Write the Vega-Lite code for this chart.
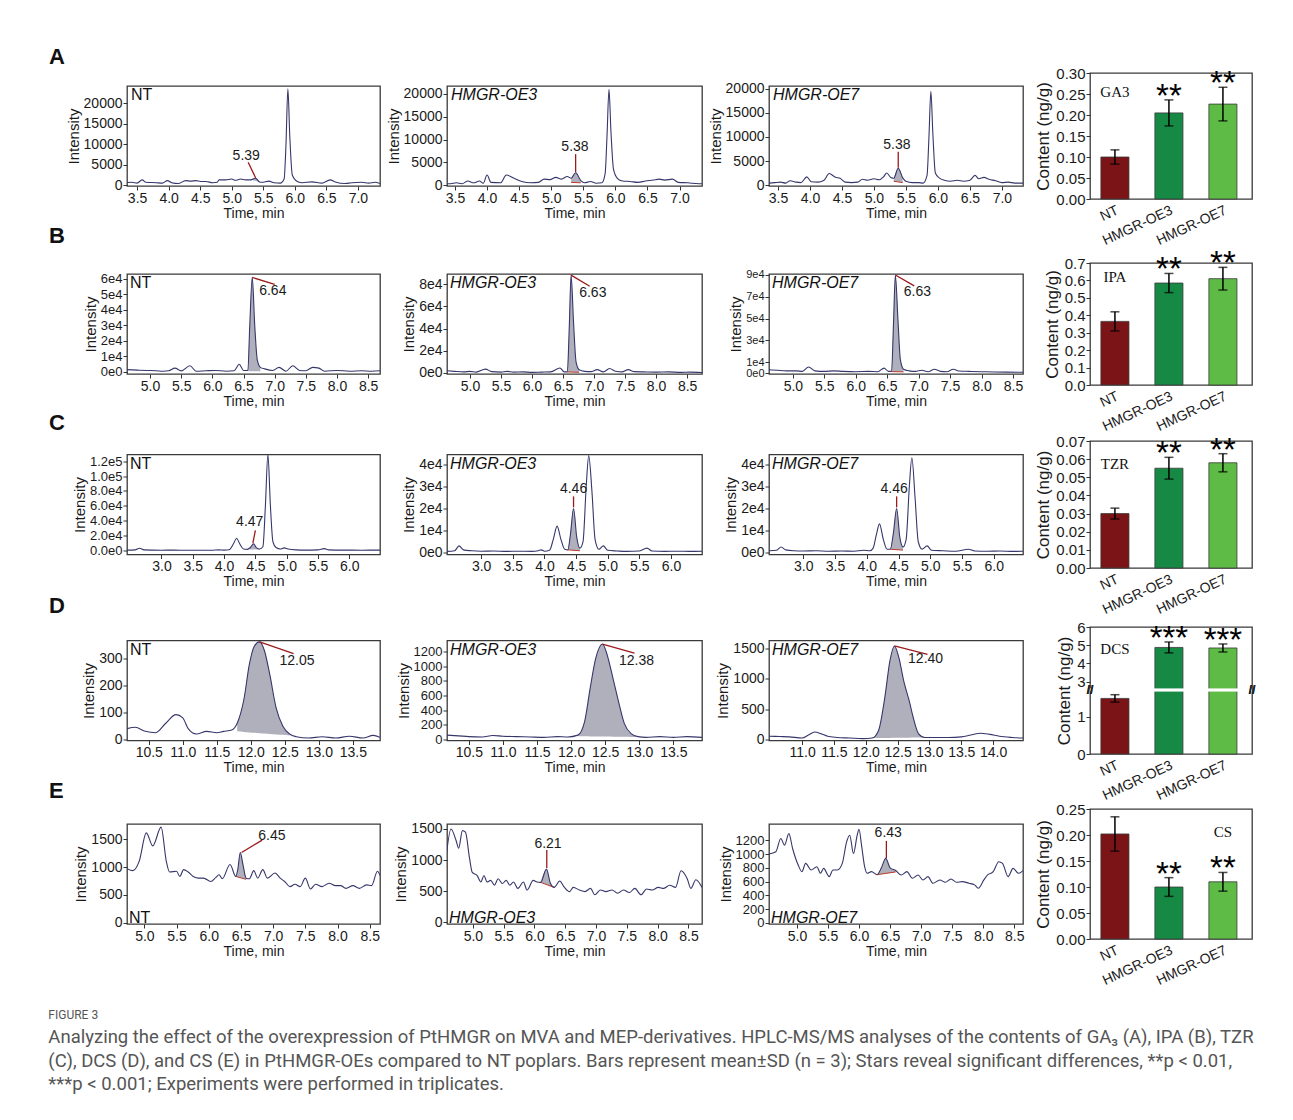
{
"$schema":"https://vega.github.io/schema/vega-lite/v6.json",
"background":"white",
"autosize":{"type":"pad"},
"padding":{"left":48,"top":45,"right":10,"bottom":10},
"config":{
 "view":{"stroke":"#3a3a3a","strokeWidth":1.3},
 "axis":{"labelFont":"Liberation Sans","labelFontSize":14,"labelColor":"#1a1a1a","titleFont":"Liberation Sans","titleFontSize":14,"titleFontWeight":"normal","titleColor":"#1a1a1a","tickColor":"#333","tickSize":4,"domain":false,"grid":false,"labelPadding":1,"labelFlush":false,"labelOverlap":false,"titlePadding":1},
 "axisY":{"titleFontSize":15,"titlePadding":2},
 "text":{"font":"Liberation Sans"}
},
"title":{"text":"FIGURE 3","subtitle":["Analyzing the effect of the overexpression of PtHMGR on MVA and MEP-derivatives. HPLC-MS/MS analyses of the contents of GA₃ (A), IPA (B), TZR","(C), DCS (D), and CS (E) in PtHMGR-OEs compared to NT poplars. Bars represent mean±SD (n = 3); Stars reveal significant differences, **p < 0.01,","***p < 0.001; Experiments were performed in triplicates."],"orient":"bottom","anchor":"start","frame":"bounds","offset":22,"baseline":"top","font":"Roboto","fontSize":12,"fontWeight":"normal","color":"#555","subtitleFont":"Roboto","subtitleFontSize":18.5,"subtitleColor":"#555","subtitleLineHeight":23.5,"subtitlePadding":6},
"spacing":-25,
"vconcat":[
{"bounds":"flush","center":true,"spacing":67,"hconcat":[
{"width":253,"height":100,
 "title":{"text":"A","anchor":"start","frame":"group","orient":"top","dx":-78,"offset":0,"baseline":"alphabetic","font":"Liberation Sans","fontSize":22,"fontWeight":"bold","color":"#111"},
 "layer":[
  {"data":{"values":[{"t":5.3,"y":1300,"y0":1300},{"t":5.38,"y":1700,"y0":1050},{"t":5.44,"y":800,"y0":800}]},
   "mark":{"type":"area","color":"#b0b0bc","interpolate":"monotone"},
   "encoding":{"x":{"field":"t","type":"quantitative","title":"Time, min","scale":{"domain":[3.34,7.35],"nice":false,"zero":false},"axis":{"values":[3.5,4,4.5,5,5.5,6,6.5,7],"tickCount":40,"format":".1f","labelOverlap":false}},
    "y":{"field":"y","type":"quantitative","title":"Intensity","scale":{"domain":[-200,24200],"nice":false,"zero":false},"axis":{"values":[0,5000,10000,15000,20000],"tickCount":40,"format":"d","labelOverlap":false}},"y2":{"field":"y0"}}},
  {"data":{"values":[{"t":3.34,"y":660},{"t":3.42,"y":700},{"t":3.5,"y":500},{"t":3.58,"y":1300},{"t":3.64,"y":700},{"t":3.8,"y":600},{"t":3.9,"y":500},{"t":3.98,"y":1100},{"t":4.05,"y":600},{"t":4.15,"y":400},{"t":4.27,"y":1100},{"t":4.35,"y":1000},{"t":4.43,"y":1100},{"t":4.51,"y":900},{"t":4.59,"y":900},{"t":4.7,"y":600},{"t":4.77,"y":700},{"t":4.8,"y":1300},{"t":4.9,"y":1300},{"t":5.0,"y":1500},{"t":5.06,"y":1200},{"t":5.14,"y":1500},{"t":5.22,"y":1300},{"t":5.3,"y":1300},{"t":5.38,"y":1700},{"t":5.44,"y":800},{"t":5.48,"y":700},{"t":5.59,"y":1000},{"t":5.67,"y":600},{"t":5.77,"y":500},{"t":5.83,"y":1500},{"t":5.86,"y":10000},{"t":5.89,"y":23500},{"t":5.92,"y":12000},{"t":5.96,"y":2500},{"t":6.04,"y":900},{"t":6.12,"y":600},{"t":6.27,"y":800},{"t":6.43,"y":500},{"t":6.56,"y":1300},{"t":6.64,"y":800},{"t":6.8,"y":400},{"t":6.9,"y":600},{"t":7.06,"y":700},{"t":7.17,"y":500},{"t":7.27,"y":700},{"t":7.35,"y":400}]},
   "mark":{"type":"line","color":"#36366b","strokeWidth":1.1,"interpolate":"monotone","clip":true},
   "encoding":{"x":{"field":"t","type":"quantitative","title":"Time, min"},"y":{"field":"y","type":"quantitative","title":"Intensity"}}},
  {"data":{"values":[{"t":5.26,"y":5600,"t2":5.38,"y2":1750}]},
   "mark":{"type":"rule","color":"#9b1b1b","strokeWidth":1.3},
   "encoding":{"x":{"field":"t","type":"quantitative","title":"Time, min"},"y":{"field":"y","type":"quantitative","title":"Intensity"},"x2":{"field":"t2"},"y2":{"field":"y2"}}},
  {"data":{"values":[{"t":5.23,"y":7050,"label":"5.39"}]},
   "mark":{"type":"text","fontSize":14,"baseline":"middle","color":"#1a1a1a"},
   "encoding":{"x":{"field":"t","type":"quantitative","title":"Time, min"},"y":{"field":"y","type":"quantitative","title":"Intensity"},"text":{"field":"label"}}},
  {"data":{"values":[{"t":3.34,"y":24200,"label":"NT"}]},
   "mark":{"type":"text","fontSize":16,"align":"left","baseline":"top","dx":4,"dy":1,"color":"#111"},
   "encoding":{"x":{"field":"t","type":"quantitative","title":"Time, min"},"y":{"field":"y","type":"quantitative","title":"Intensity"},"text":{"field":"label"}}}
 ]},
{"width":255,"height":100,
 "layer":[
  {"data":{"values":[{"t":5.31,"y":1500,"y0":600},{"t":5.38,"y":2700,"y0":550},{"t":5.46,"y":1000,"y0":500}]},
   "mark":{"type":"area","color":"#b0b0bc","interpolate":"monotone"},
   "encoding":{"x":{"field":"t","type":"quantitative","title":"Time, min","scale":{"domain":[3.375,7.35],"nice":false,"zero":false},"axis":{"values":[3.5,4,4.5,5,5.5,6,6.5,7],"tickCount":40,"format":".1f","labelOverlap":false}},
    "y":{"field":"y","type":"quantitative","title":"Intensity","scale":{"domain":[-200,21750],"nice":false,"zero":false},"axis":{"values":[0,5000,10000,15000,20000],"tickCount":40,"format":"d","labelOverlap":false}},"y2":{"field":"y0"}}},
  {"data":{"values":[{"t":5.31,"y0":600},{"t":5.46,"y0":500}]},
   "mark":{"type":"line","color":"#c0392b","strokeWidth":1},
   "encoding":{"x":{"field":"t","type":"quantitative","title":"Time, min"},"y":{"field":"y0","type":"quantitative","title":"Intensity"}}},
  {"data":{"values":[{"t":3.375,"y":300},{"t":3.43,"y":300},{"t":3.52,"y":500},{"t":3.61,"y":300},{"t":3.7,"y":900},{"t":3.79,"y":500},{"t":3.88,"y":900},{"t":3.94,"y":400},{"t":4.0,"y":2200},{"t":4.06,"y":600},{"t":4.21,"y":500},{"t":4.3,"y":2200},{"t":4.42,"y":1500},{"t":4.54,"y":800},{"t":4.68,"y":500},{"t":4.8,"y":600},{"t":4.89,"y":1300},{"t":4.98,"y":1200},{"t":5.07,"y":1700},{"t":5.16,"y":1300},{"t":5.25,"y":1900},{"t":5.31,"y":1500},{"t":5.38,"y":2700},{"t":5.46,"y":1000},{"t":5.52,"y":500},{"t":5.61,"y":800},{"t":5.7,"y":400},{"t":5.79,"y":500},{"t":5.84,"y":2500},{"t":5.87,"y":11000},{"t":5.9,"y":21000},{"t":5.93,"y":12000},{"t":5.97,"y":3500},{"t":6.03,"y":1500},{"t":6.11,"y":900},{"t":6.23,"y":800},{"t":6.35,"y":600},{"t":6.47,"y":900},{"t":6.59,"y":1100},{"t":6.68,"y":1300},{"t":6.77,"y":1100},{"t":6.89,"y":1300},{"t":6.98,"y":600},{"t":7.13,"y":500},{"t":7.3,"y":300},{"t":7.35,"y":300}]},
   "mark":{"type":"line","color":"#36366b","strokeWidth":1.1,"interpolate":"monotone","clip":true},
   "encoding":{"x":{"field":"t","type":"quantitative","title":"Time, min"},"y":{"field":"y","type":"quantitative","title":"Intensity"}}},
  {"data":{"values":[{"t":5.38,"y":6800,"t2":5.38,"y2":2800}]},
   "mark":{"type":"rule","color":"#9b1b1b","strokeWidth":1.3},
   "encoding":{"x":{"field":"t","type":"quantitative","title":"Time, min"},"y":{"field":"y","type":"quantitative","title":"Intensity"},"x2":{"field":"t2"},"y2":{"field":"y2"}}},
  {"data":{"values":[{"t":5.37,"y":8300,"label":"5.38"}]},
   "mark":{"type":"text","fontSize":14,"baseline":"middle","color":"#1a1a1a"},
   "encoding":{"x":{"field":"t","type":"quantitative","title":"Time, min"},"y":{"field":"y","type":"quantitative","title":"Intensity"},"text":{"field":"label"}}},
  {"data":{"values":[{"t":3.375,"y":21750,"label":"HMGR-OE3"}]},
   "mark":{"type":"text","fontSize":16,"fontStyle":"italic","align":"left","baseline":"top","dx":4,"dy":1,"color":"#111"},
   "encoding":{"x":{"field":"t","type":"quantitative","title":"Time, min"},"y":{"field":"y","type":"quantitative","title":"Intensity"},"text":{"field":"label"}}}
 ]},
{"width":254,"height":100,
 "layer":[
  {"data":{"values":[{"t":5.31,"y":1400,"y0":800},{"t":5.38,"y":3500,"y0":650},{"t":5.45,"y":1500,"y0":500}]},
   "mark":{"type":"area","color":"#b0b0bc","interpolate":"monotone"},
   "encoding":{"x":{"field":"t","type":"quantitative","title":"Time, min","scale":{"domain":[3.36,7.33],"nice":false,"zero":false},"axis":{"values":[3.5,4,4.5,5,5.5,6,6.5,7],"tickCount":40,"format":".1f","labelOverlap":false}},
    "y":{"field":"y","type":"quantitative","title":"Intensity","scale":{"domain":[-200,20600],"nice":false,"zero":false},"axis":{"values":[0,5000,10000,15000,20000],"tickCount":40,"format":"d","labelOverlap":false}},"y2":{"field":"y0"}}},
  {"data":{"values":[{"t":5.31,"y0":800},{"t":5.45,"y0":500}]},
   "mark":{"type":"line","color":"#c0392b","strokeWidth":1},
   "encoding":{"x":{"field":"t","type":"quantitative","title":"Time, min"},"y":{"field":"y0","type":"quantitative","title":"Intensity"}}},
  {"data":{"values":[{"t":3.36,"y":400},{"t":3.45,"y":500},{"t":3.54,"y":600},{"t":3.62,"y":400},{"t":3.69,"y":900},{"t":3.78,"y":600},{"t":3.86,"y":500},{"t":3.95,"y":1700},{"t":4.02,"y":700},{"t":4.12,"y":600},{"t":4.22,"y":1000},{"t":4.3,"y":2400},{"t":4.4,"y":1600},{"t":4.47,"y":1400},{"t":4.55,"y":600},{"t":4.65,"y":500},{"t":4.75,"y":600},{"t":4.82,"y":1200},{"t":4.9,"y":1000},{"t":5.0,"y":1300},{"t":5.08,"y":1100},{"t":5.15,"y":1700},{"t":5.2,"y":2500},{"t":5.27,"y":1500},{"t":5.31,"y":1400},{"t":5.38,"y":3500},{"t":5.45,"y":1500},{"t":5.5,"y":800},{"t":5.6,"y":500},{"t":5.7,"y":500},{"t":5.77,"y":400},{"t":5.83,"y":2000},{"t":5.86,"y":10000},{"t":5.89,"y":19500},{"t":5.92,"y":11000},{"t":5.96,"y":2500},{"t":6.02,"y":1500},{"t":6.1,"y":1000},{"t":6.2,"y":800},{"t":6.3,"y":1000},{"t":6.4,"y":800},{"t":6.5,"y":1000},{"t":6.58,"y":2000},{"t":6.64,"y":1300},{"t":6.72,"y":1600},{"t":6.8,"y":1200},{"t":6.9,"y":900},{"t":7.0,"y":500},{"t":7.1,"y":600},{"t":7.2,"y":400},{"t":7.33,"y":400}]},
   "mark":{"type":"line","color":"#36366b","strokeWidth":1.1,"interpolate":"monotone","clip":true},
   "encoding":{"x":{"field":"t","type":"quantitative","title":"Time, min"},"y":{"field":"y","type":"quantitative","title":"Intensity"}}},
  {"data":{"values":[{"t":5.38,"y":6900,"t2":5.38,"y2":3600}]},
   "mark":{"type":"rule","color":"#9b1b1b","strokeWidth":1.3},
   "encoding":{"x":{"field":"t","type":"quantitative","title":"Time, min"},"y":{"field":"y","type":"quantitative","title":"Intensity"},"x2":{"field":"t2"},"y2":{"field":"y2"}}},
  {"data":{"values":[{"t":5.36,"y":8300,"label":"5.38"}]},
   "mark":{"type":"text","fontSize":14,"baseline":"middle","color":"#1a1a1a"},
   "encoding":{"x":{"field":"t","type":"quantitative","title":"Time, min"},"y":{"field":"y","type":"quantitative","title":"Intensity"},"text":{"field":"label"}}},
  {"data":{"values":[{"t":3.36,"y":20600,"label":"HMGR-OE7"}]},
   "mark":{"type":"text","fontSize":16,"fontStyle":"italic","align":"left","baseline":"top","dx":4,"dy":1,"color":"#111"},
   "encoding":{"x":{"field":"t","type":"quantitative","title":"Time, min"},"y":{"field":"y","type":"quantitative","title":"Intensity"},"text":{"field":"label"}}}
 ]},
{"width":162,"height":126,
 "data":{"values":[{"g":"NT","mean":0.1,"sd":0.017,"s":""},{"g":"HMGR-OE3","mean":0.205,"sd":0.031,"s":"**"},{"g":"HMGR-OE7","mean":0.226,"sd":0.04,"s":"**"}]},
 "layer":[
  {"mark":{"type":"bar","stroke":"#3a3a3a","strokeWidth":0.8},
   "encoding":{"x":{"field":"g","type":"nominal","sort":null,"title":null,"scale":{"domain":["NT","HMGR-OE3","HMGR-OE7"],"paddingInner":0.48,"paddingOuter":0.24,"align":0.42},"axis":{"labelAngle":-25,"ticks":false,"labelPadding":4,"labelOverlap":false}},
    "y":{"field":"mean","type":"quantitative","title":"Content (ng/g)","scale":{"domain":[0,0.3],"nice":false},"axis":{"values":[0,0.05,0.1,0.15,0.2,0.25,0.3],"tickCount":40,"format":".2f","labelFontSize":15,"titleFontSize":17,"titlePadding":3,"labelOverlap":false}},
    "color":{"field":"g","type":"nominal","scale":{"domain":["NT","HMGR-OE3","HMGR-OE7"],"range":["#7b1416","#168a45","#5dbb46"]},"legend":null}}},
  {"mark":{"type":"errorbar","ticks":true,"size":9,"thickness":1.5,"color":"#000"},
   "encoding":{"x":{"field":"g","type":"nominal","sort":null,"title":null},"y":{"field":"mean","type":"quantitative","title":"Content (ng/g)"},"yError":{"field":"sd"}}},
  {"transform":[{"calculate":"datum.mean+datum.sd","as":"top"}],
   "mark":{"type":"text","fontSize":33,"dy":7,"color":"#000","baseline":"alphabetic"},
   "encoding":{"x":{"field":"g","type":"nominal","sort":null,"title":null},"y":{"field":"top","type":"quantitative","title":"Content (ng/g)"},"text":{"field":"s"}}},
  {"data":{"values":[{"g":"NT","v":0.255,"label":"GA3"}]},
   "mark":{"type":"text","font":"Liberation Serif","fontSize":15,"baseline":"middle","color":"#111"},
   "encoding":{"x":{"field":"g","type":"nominal","sort":null,"title":null},"y":{"field":"v","type":"quantitative","title":"Content (ng/g)"},"text":{"field":"label"}}}
 ]}
]},
{"bounds":"flush","center":true,"spacing":67,"hconcat":[
{"width":253,"height":100,
 "title":{"text":"B","anchor":"start","frame":"group","orient":"top","dx":-78,"offset":8,"baseline":"alphabetic","font":"Liberation Sans","fontSize":22,"fontWeight":"bold","color":"#111"},
 "layer":[
  {"data":{"values":[{"t":6.57,"y":1000,"y0":600},{"t":6.6,"y":30000,"y0":550},{"t":6.64,"y":61000,"y0":500},{"t":6.68,"y":30000,"y0":450},{"t":6.72,"y":8000,"y0":400},{"t":6.77,"y":3000,"y0":350}]},
   "mark":{"type":"area","color":"#b0b0bc","interpolate":"monotone"},
   "encoding":{"x":{"field":"t","type":"quantitative","title":"Time, min","scale":{"domain":[4.63,8.69],"nice":false,"zero":false},"axis":{"values":[5,5.5,6,6.5,7,7.5,8,8.5],"tickCount":40,"format":".1f","labelOverlap":false}},
    "y":{"field":"y","type":"quantitative","title":"Intensity","scale":{"domain":[-1300,63200],"nice":false,"zero":false},"axis":{"values":[0,10000,20000,30000,40000,50000,60000],"tickCount":40,"labelFontSize":13,"labelExpr":"replace(format(datum.value, '.0e'), '+', '')","labelOverlap":false}},"y2":{"field":"y0"}}},
  {"data":{"values":[{"t":4.63,"y":1500},{"t":4.8,"y":1200},{"t":4.95,"y":1000},{"t":5.1,"y":800},{"t":5.21,"y":500},{"t":5.3,"y":800},{"t":5.4,"y":2500},{"t":5.5,"y":700},{"t":5.64,"y":4000},{"t":5.74,"y":500},{"t":5.9,"y":800},{"t":6.05,"y":1000},{"t":6.22,"y":500},{"t":6.35,"y":800},{"t":6.43,"y":5000},{"t":6.5,"y":1000},{"t":6.57,"y":1000},{"t":6.6,"y":30000},{"t":6.64,"y":61000},{"t":6.68,"y":30000},{"t":6.72,"y":8000},{"t":6.77,"y":3000},{"t":6.84,"y":2000},{"t":6.97,"y":1000},{"t":7.07,"y":3000},{"t":7.18,"y":500},{"t":7.29,"y":4000},{"t":7.4,"y":1000},{"t":7.5,"y":800},{"t":7.61,"y":3000},{"t":7.71,"y":2500},{"t":7.8,"y":500},{"t":8.0,"y":1000},{"t":8.2,"y":500},{"t":8.4,"y":800},{"t":8.55,"y":500},{"t":8.69,"y":800}]},
   "mark":{"type":"line","color":"#36366b","strokeWidth":1.1,"interpolate":"monotone","clip":true},
   "encoding":{"x":{"field":"t","type":"quantitative","title":"Time, min"},"y":{"field":"y","type":"quantitative","title":"Intensity"}}},
  {"data":{"values":[{"t":6.64,"y":61000,"t2":7.0,"y2":56500}]},
   "mark":{"type":"rule","color":"#9b1b1b","strokeWidth":1.3},
   "encoding":{"x":{"field":"t","type":"quantitative","title":"Time, min"},"y":{"field":"y","type":"quantitative","title":"Intensity"},"x2":{"field":"t2"},"y2":{"field":"y2"}}},
  {"data":{"values":[{"t":6.97,"y":52000,"label":"6.64"}]},
   "mark":{"type":"text","fontSize":14,"baseline":"middle","color":"#1a1a1a"},
   "encoding":{"x":{"field":"t","type":"quantitative","title":"Time, min"},"y":{"field":"y","type":"quantitative","title":"Intensity"},"text":{"field":"label"}}},
  {"data":{"values":[{"t":4.63,"y":63200,"label":"NT"}]},
   "mark":{"type":"text","fontSize":16,"align":"left","baseline":"top","dx":3,"dy":1,"color":"#111"},
   "encoding":{"x":{"field":"t","type":"quantitative","title":"Time, min"},"y":{"field":"y","type":"quantitative","title":"Intensity"},"text":{"field":"label"}}}
 ]},
{"width":255,"height":100,
 "layer":[
  {"data":{"values":[{"t":6.57,"y":1000,"y0":900},{"t":6.6,"y":40000,"y0":850},{"t":6.63,"y":88000,"y0":800},{"t":6.67,"y":45000,"y0":750},{"t":6.71,"y":10000,"y0":700},{"t":6.76,"y":3000,"y0":650}]},
   "mark":{"type":"area","color":"#b0b0bc","interpolate":"monotone"},
   "encoding":{"x":{"field":"t","type":"quantitative","title":"Time, min","scale":{"domain":[4.63,8.74],"nice":false,"zero":false},"axis":{"values":[5,5.5,6,6.5,7,7.5,8,8.5],"tickCount":40,"format":".1f","labelOverlap":false}},
    "y":{"field":"y","type":"quantitative","title":"Intensity","scale":{"domain":[-900,89000],"nice":false,"zero":false},"axis":{"values":[0,20000,40000,60000,80000],"tickCount":40,"labelExpr":"replace(format(datum.value, '.0e'), '+', '')","labelOverlap":false}},"y2":{"field":"y0"}}},
  {"data":{"values":[{"t":6.57,"y0":900},{"t":6.76,"y0":650}]},
   "mark":{"type":"line","color":"#c0392b","strokeWidth":1},
   "encoding":{"x":{"field":"t","type":"quantitative","title":"Time, min"},"y":{"field":"y0","type":"quantitative","title":"Intensity"}}},
  {"data":{"values":[{"t":4.63,"y":2000},{"t":4.75,"y":1500},{"t":4.9,"y":1000},{"t":5.0,"y":1500},{"t":5.1,"y":800},{"t":5.25,"y":3500},{"t":5.35,"y":1200},{"t":5.5,"y":800},{"t":5.6,"y":1500},{"t":5.7,"y":800},{"t":5.85,"y":1000},{"t":6.0,"y":600},{"t":6.15,"y":800},{"t":6.3,"y":1000},{"t":6.45,"y":4500},{"t":6.52,"y":1000},{"t":6.57,"y":1000},{"t":6.6,"y":40000},{"t":6.63,"y":88000},{"t":6.67,"y":45000},{"t":6.71,"y":10000},{"t":6.76,"y":3000},{"t":6.85,"y":1500},{"t":6.95,"y":1200},{"t":7.05,"y":3000},{"t":7.15,"y":1000},{"t":7.25,"y":4000},{"t":7.35,"y":1500},{"t":7.45,"y":1000},{"t":7.55,"y":3000},{"t":7.65,"y":1200},{"t":7.8,"y":1000},{"t":8.0,"y":800},{"t":8.2,"y":1000},{"t":8.4,"y":600},{"t":8.55,"y":800},{"t":8.74,"y":500}]},
   "mark":{"type":"line","color":"#36366b","strokeWidth":1.1,"interpolate":"monotone","clip":true},
   "encoding":{"x":{"field":"t","type":"quantitative","title":"Time, min"},"y":{"field":"y","type":"quantitative","title":"Intensity"}}},
  {"data":{"values":[{"t":6.63,"y":88000,"t2":6.93,"y2":78000}]},
   "mark":{"type":"rule","color":"#9b1b1b","strokeWidth":1.3},
   "encoding":{"x":{"field":"t","type":"quantitative","title":"Time, min"},"y":{"field":"y","type":"quantitative","title":"Intensity"},"x2":{"field":"t2"},"y2":{"field":"y2"}}},
  {"data":{"values":[{"t":6.98,"y":71500,"label":"6.63"}]},
   "mark":{"type":"text","fontSize":14,"baseline":"middle","color":"#1a1a1a"},
   "encoding":{"x":{"field":"t","type":"quantitative","title":"Time, min"},"y":{"field":"y","type":"quantitative","title":"Intensity"},"text":{"field":"label"}}},
  {"data":{"values":[{"t":4.63,"y":89000,"label":"HMGR-OE3"}]},
   "mark":{"type":"text","fontSize":16,"fontStyle":"italic","align":"left","baseline":"top","dx":3,"dy":1,"color":"#111"},
   "encoding":{"x":{"field":"t","type":"quantitative","title":"Time, min"},"y":{"field":"y","type":"quantitative","title":"Intensity"},"text":{"field":"label"}}}
 ]},
{"width":254,"height":100,
 "layer":[
  {"data":{"values":[{"t":6.57,"y":1500,"y0":1300},{"t":6.6,"y":45000,"y0":1250},{"t":6.63,"y":90000,"y0":1200},{"t":6.67,"y":50000,"y0":1150},{"t":6.71,"y":12000,"y0":1100},{"t":6.76,"y":3500,"y0":1050}]},
   "mark":{"type":"area","color":"#b0b0bc","interpolate":"monotone"},
   "encoding":{"x":{"field":"t","type":"quantitative","title":"Time, min","scale":{"domain":[4.62,8.66],"nice":false,"zero":false},"axis":{"values":[5,5.5,6,6.5,7,7.5,8,8.5],"tickCount":40,"format":".1f","labelOverlap":false}},
    "y":{"field":"y","type":"quantitative","title":"Intensity","scale":{"domain":[-900,90900],"nice":false,"zero":false},"axis":{"values":[0,10000,30000,50000,70000,90000],"tickCount":40,"labelFontSize":11,"labelExpr":"replace(format(datum.value, '.0e'), '+', '')","labelOverlap":false}},"y2":{"field":"y0"}}},
  {"data":{"values":[{"t":6.57,"y0":1300},{"t":6.76,"y0":1050}]},
   "mark":{"type":"line","color":"#c0392b","strokeWidth":1},
   "encoding":{"x":{"field":"t","type":"quantitative","title":"Time, min"},"y":{"field":"y0","type":"quantitative","title":"Intensity"}}},
  {"data":{"values":[{"t":4.62,"y":3000},{"t":4.75,"y":2500},{"t":4.9,"y":2000},{"t":5.05,"y":2000},{"t":5.15,"y":1500},{"t":5.25,"y":5500},{"t":5.35,"y":2000},{"t":5.5,"y":1500},{"t":5.65,"y":2000},{"t":5.8,"y":1500},{"t":6.0,"y":1200},{"t":6.2,"y":1500},{"t":6.35,"y":1200},{"t":6.45,"y":4500},{"t":6.52,"y":1500},{"t":6.57,"y":1500},{"t":6.6,"y":45000},{"t":6.63,"y":90000},{"t":6.67,"y":50000},{"t":6.71,"y":12000},{"t":6.76,"y":3500},{"t":6.85,"y":2000},{"t":6.95,"y":1500},{"t":7.05,"y":2500},{"t":7.15,"y":1200},{"t":7.25,"y":3500},{"t":7.35,"y":1500},{"t":7.45,"y":1200},{"t":7.55,"y":3500},{"t":7.65,"y":1800},{"t":7.8,"y":1500},{"t":8.0,"y":1200},{"t":8.2,"y":1000},{"t":8.4,"y":800},{"t":8.66,"y":700}]},
   "mark":{"type":"line","color":"#36366b","strokeWidth":1.1,"interpolate":"monotone","clip":true},
   "encoding":{"x":{"field":"t","type":"quantitative","title":"Time, min"},"y":{"field":"y","type":"quantitative","title":"Intensity"}}},
  {"data":{"values":[{"t":6.63,"y":90000,"t2":6.93,"y2":80000}]},
   "mark":{"type":"rule","color":"#9b1b1b","strokeWidth":1.3},
   "encoding":{"x":{"field":"t","type":"quantitative","title":"Time, min"},"y":{"field":"y","type":"quantitative","title":"Intensity"},"x2":{"field":"t2"},"y2":{"field":"y2"}}},
  {"data":{"values":[{"t":6.98,"y":74000,"label":"6.63"}]},
   "mark":{"type":"text","fontSize":14,"baseline":"middle","color":"#1a1a1a"},
   "encoding":{"x":{"field":"t","type":"quantitative","title":"Time, min"},"y":{"field":"y","type":"quantitative","title":"Intensity"},"text":{"field":"label"}}},
  {"data":{"values":[{"t":4.62,"y":90900,"label":"HMGR-OE7"}]},
   "mark":{"type":"text","fontSize":16,"fontStyle":"italic","align":"left","baseline":"top","dx":3,"dy":1,"color":"#111"},
   "encoding":{"x":{"field":"t","type":"quantitative","title":"Time, min"},"y":{"field":"y","type":"quantitative","title":"Intensity"},"text":{"field":"label"}}}
 ]},
{"width":162,"height":122,
 "data":{"values":[{"g":"NT","mean":0.365,"sd":0.055,"s":""},{"g":"HMGR-OE3","mean":0.585,"sd":0.055,"s":"**"},{"g":"HMGR-OE7","mean":0.61,"sd":0.065,"s":"**"}]},
 "layer":[
  {"mark":{"type":"bar","stroke":"#3a3a3a","strokeWidth":0.8},
   "encoding":{"x":{"field":"g","type":"nominal","sort":null,"title":null,"scale":{"domain":["NT","HMGR-OE3","HMGR-OE7"],"paddingInner":0.48,"paddingOuter":0.24,"align":0.42},"axis":{"labelAngle":-25,"ticks":false,"labelPadding":4,"labelOverlap":false}},
    "y":{"field":"mean","type":"quantitative","title":"Content (ng/g)","scale":{"domain":[0,0.7],"nice":false},"axis":{"values":[0,0.1,0.2,0.3,0.4,0.5,0.6,0.7],"tickCount":40,"format":".1f","labelFontSize":15,"titleFontSize":17,"titlePadding":3,"labelOverlap":false}},
    "color":{"field":"g","type":"nominal","scale":{"domain":["NT","HMGR-OE3","HMGR-OE7"],"range":["#7b1416","#168a45","#5dbb46"]},"legend":null}}},
  {"mark":{"type":"errorbar","ticks":true,"size":9,"thickness":1.5,"color":"#000"},
   "encoding":{"x":{"field":"g","type":"nominal","sort":null,"title":null},"y":{"field":"mean","type":"quantitative","title":"Content (ng/g)"},"yError":{"field":"sd"}}},
  {"transform":[{"calculate":"datum.mean+datum.sd","as":"top"}],
   "mark":{"type":"text","fontSize":33,"dy":7,"color":"#000","baseline":"alphabetic"},
   "encoding":{"x":{"field":"g","type":"nominal","sort":null,"title":null},"y":{"field":"top","type":"quantitative","title":"Content (ng/g)"},"text":{"field":"s"}}},
  {"data":{"values":[{"g":"NT","v":0.62,"label":"IPA"}]},
   "mark":{"type":"text","font":"Liberation Serif","fontSize":15,"baseline":"middle","color":"#111"},
   "encoding":{"x":{"field":"g","type":"nominal","sort":null,"title":null},"y":{"field":"v","type":"quantitative","title":"Content (ng/g)"},"text":{"field":"label"}}}
 ]}
]},
{"bounds":"flush","center":true,"spacing":67,"hconcat":[
{"width":253,"height":100,
 "title":{"text":"C","anchor":"start","frame":"group","orient":"top","dx":-78,"offset":3,"baseline":"alphabetic","font":"Liberation Sans","fontSize":22,"fontWeight":"bold","color":"#111"},
 "layer":[
  {"data":{"values":[{"t":4.37,"y":1500,"y0":1500},{"t":4.42,"y":4000,"y0":1400},{"t":4.47,"y":9000,"y0":1300},{"t":4.52,"y":3500,"y0":1200},{"t":4.57,"y":2000,"y0":1100}]},
   "mark":{"type":"area","color":"#b0b0bc","interpolate":"monotone"},
   "encoding":{"x":{"field":"t","type":"quantitative","title":"Time, min","scale":{"domain":[2.45,6.49],"nice":false,"zero":false},"axis":{"values":[3,3.5,4,4.5,5,5.5,6],"tickCount":40,"format":".1f","labelOverlap":false}},
    "y":{"field":"y","type":"quantitative","title":"Intensity","scale":{"domain":[-5400,129000],"nice":false,"zero":false},"axis":{"values":[0,20000,40000,60000,80000,100000,120000],"tickCount":40,"labelFontSize":13,"labelExpr":"replace(format(datum.value, '.1e'), '+', '')","labelOverlap":false}},"y2":{"field":"y0"}}},
  {"data":{"values":[{"t":2.45,"y":500},{"t":2.58,"y":800},{"t":2.65,"y":3000},{"t":2.72,"y":800},{"t":2.85,"y":500},{"t":3.0,"y":400},{"t":3.2,"y":500},{"t":3.4,"y":300},{"t":3.6,"y":400},{"t":3.8,"y":300},{"t":3.92,"y":800},{"t":4.0,"y":500},{"t":4.08,"y":1000},{"t":4.15,"y":9000},{"t":4.2,"y":16500},{"t":4.25,"y":9000},{"t":4.31,"y":2000},{"t":4.37,"y":1500},{"t":4.42,"y":4000},{"t":4.47,"y":9000},{"t":4.52,"y":3500},{"t":4.57,"y":2000},{"t":4.62,"y":5000},{"t":4.66,"y":60000},{"t":4.7,"y":129000},{"t":4.74,"y":60000},{"t":4.78,"y":12000},{"t":4.83,"y":4000},{"t":4.9,"y":2000},{"t":4.96,"y":3500},{"t":5.02,"y":2000},{"t":5.15,"y":800},{"t":5.3,"y":500},{"t":5.5,"y":800},{"t":5.6,"y":2500},{"t":5.67,"y":800},{"t":5.9,"y":500},{"t":6.2,"y":400},{"t":6.49,"y":500}]},
   "mark":{"type":"line","color":"#36366b","strokeWidth":1.1,"interpolate":"monotone","clip":true},
   "encoding":{"x":{"field":"t","type":"quantitative","title":"Time, min"},"y":{"field":"y","type":"quantitative","title":"Intensity"}}},
  {"data":{"values":[{"t":4.5,"y":27000,"t2":4.46,"y2":10000}]},
   "mark":{"type":"rule","color":"#9b1b1b","strokeWidth":1.3},
   "encoding":{"x":{"field":"t","type":"quantitative","title":"Time, min"},"y":{"field":"y","type":"quantitative","title":"Intensity"},"x2":{"field":"t2"},"y2":{"field":"y2"}}},
  {"data":{"values":[{"t":4.41,"y":38500,"label":"4.47"}]},
   "mark":{"type":"text","fontSize":14,"baseline":"middle","color":"#1a1a1a"},
   "encoding":{"x":{"field":"t","type":"quantitative","title":"Time, min"},"y":{"field":"y","type":"quantitative","title":"Intensity"},"text":{"field":"label"}}},
  {"data":{"values":[{"t":2.45,"y":129000,"label":"NT"}]},
   "mark":{"type":"text","fontSize":16,"align":"left","baseline":"top","dx":3,"dy":1,"color":"#111"},
   "encoding":{"x":{"field":"t","type":"quantitative","title":"Time, min"},"y":{"field":"y","type":"quantitative","title":"Intensity"},"text":{"field":"label"}}}
 ]},
{"width":255,"height":100,
 "layer":[
  {"data":{"values":[{"t":4.37,"y":1200,"y0":1200},{"t":4.41,"y":8000,"y0":1100},{"t":4.46,"y":20000,"y0":1000},{"t":4.51,"y":7000,"y0":900},{"t":4.56,"y":2000,"y0":800}]},
   "mark":{"type":"area","color":"#b0b0bc","interpolate":"monotone"},
   "encoding":{"x":{"field":"t","type":"quantitative","title":"Time, min","scale":{"domain":[2.46,6.49],"nice":false,"zero":false},"axis":{"values":[3,3.5,4,4.5,5,5.5,6],"tickCount":40,"format":".1f","labelOverlap":false}},
    "y":{"field":"y","type":"quantitative","title":"Intensity","scale":{"domain":[-900,44500],"nice":false,"zero":false},"axis":{"values":[0,10000,20000,30000,40000],"tickCount":40,"labelExpr":"replace(format(datum.value, '.0e'), '+', '')","labelOverlap":false}},"y2":{"field":"y0"}}},
  {"data":{"values":[{"t":4.37,"y0":1200},{"t":4.56,"y0":800}]},
   "mark":{"type":"line","color":"#c0392b","strokeWidth":1},
   "encoding":{"x":{"field":"t","type":"quantitative","title":"Time, min"},"y":{"field":"y0","type":"quantitative","title":"Intensity"}}},
  {"data":{"values":[{"t":2.46,"y":500},{"t":2.58,"y":800},{"t":2.65,"y":3000},{"t":2.72,"y":1200},{"t":2.85,"y":800},{"t":3.0,"y":600},{"t":3.2,"y":700},{"t":3.4,"y":500},{"t":3.6,"y":600},{"t":3.8,"y":500},{"t":3.9,"y":800},{"t":3.95,"y":1200},{"t":4.0,"y":600},{"t":4.08,"y":1000},{"t":4.14,"y":6000},{"t":4.2,"y":12000},{"t":4.26,"y":6000},{"t":4.32,"y":1500},{"t":4.37,"y":1200},{"t":4.41,"y":8000},{"t":4.46,"y":20000},{"t":4.51,"y":7000},{"t":4.56,"y":2000},{"t":4.61,"y":5000},{"t":4.66,"y":30000},{"t":4.7,"y":44000},{"t":4.75,"y":28000},{"t":4.8,"y":6000},{"t":4.86,"y":1500},{"t":4.93,"y":3000},{"t":5.0,"y":1000},{"t":5.15,"y":700},{"t":5.3,"y":500},{"t":5.5,"y":700},{"t":5.62,"y":2000},{"t":5.7,"y":700},{"t":5.9,"y":500},{"t":6.1,"y":600},{"t":6.3,"y":500},{"t":6.49,"y":600}]},
   "mark":{"type":"line","color":"#36366b","strokeWidth":1.1,"interpolate":"monotone","clip":true},
   "encoding":{"x":{"field":"t","type":"quantitative","title":"Time, min"},"y":{"field":"y","type":"quantitative","title":"Intensity"}}},
  {"data":{"values":[{"t":4.46,"y":25500,"t2":4.46,"y2":20500}]},
   "mark":{"type":"rule","color":"#9b1b1b","strokeWidth":1.3},
   "encoding":{"x":{"field":"t","type":"quantitative","title":"Time, min"},"y":{"field":"y","type":"quantitative","title":"Intensity"},"x2":{"field":"t2"},"y2":{"field":"y2"}}},
  {"data":{"values":[{"t":4.46,"y":28800,"label":"4.46"}]},
   "mark":{"type":"text","fontSize":14,"baseline":"middle","color":"#1a1a1a"},
   "encoding":{"x":{"field":"t","type":"quantitative","title":"Time, min"},"y":{"field":"y","type":"quantitative","title":"Intensity"},"text":{"field":"label"}}},
  {"data":{"values":[{"t":2.46,"y":44500,"label":"HMGR-OE3"}]},
   "mark":{"type":"text","fontSize":16,"fontStyle":"italic","align":"left","baseline":"top","dx":3,"dy":1,"color":"#111"},
   "encoding":{"x":{"field":"t","type":"quantitative","title":"Time, min"},"y":{"field":"y","type":"quantitative","title":"Intensity"},"text":{"field":"label"}}}
 ]},
{"width":254,"height":100,
 "layer":[
  {"data":{"values":[{"t":4.37,"y":1500,"y0":1500},{"t":4.42,"y":9000,"y0":1400},{"t":4.47,"y":20000,"y0":1300},{"t":4.52,"y":7000,"y0":1200},{"t":4.57,"y":2500,"y0":1100}]},
   "mark":{"type":"area","color":"#b0b0bc","interpolate":"monotone"},
   "encoding":{"x":{"field":"t","type":"quantitative","title":"Time, min","scale":{"domain":[2.46,6.46],"nice":false,"zero":false},"axis":{"values":[3,3.5,4,4.5,5,5.5,6],"tickCount":40,"format":".1f","labelOverlap":false}},
    "y":{"field":"y","type":"quantitative","title":"Intensity","scale":{"domain":[-900,44500],"nice":false,"zero":false},"axis":{"values":[0,10000,20000,30000,40000],"tickCount":40,"labelExpr":"replace(format(datum.value, '.0e'), '+', '')","labelOverlap":false}},"y2":{"field":"y0"}}},
  {"data":{"values":[{"t":4.37,"y0":1500},{"t":4.57,"y0":1100}]},
   "mark":{"type":"line","color":"#c0392b","strokeWidth":1},
   "encoding":{"x":{"field":"t","type":"quantitative","title":"Time, min"},"y":{"field":"y0","type":"quantitative","title":"Intensity"}}},
  {"data":{"values":[{"t":2.46,"y":800},{"t":2.58,"y":1000},{"t":2.65,"y":2500},{"t":2.72,"y":1200},{"t":2.85,"y":800},{"t":3.0,"y":700},{"t":3.2,"y":800},{"t":3.4,"y":600},{"t":3.6,"y":700},{"t":3.8,"y":600},{"t":3.95,"y":1000},{"t":4.05,"y":800},{"t":4.1,"y":2000},{"t":4.15,"y":8000},{"t":4.2,"y":13000},{"t":4.26,"y":6000},{"t":4.32,"y":1500},{"t":4.37,"y":1500},{"t":4.42,"y":9000},{"t":4.47,"y":20000},{"t":4.52,"y":7000},{"t":4.57,"y":2500},{"t":4.62,"y":6000},{"t":4.67,"y":30000},{"t":4.71,"y":43000},{"t":4.76,"y":25000},{"t":4.81,"y":5000},{"t":4.87,"y":1500},{"t":4.95,"y":3000},{"t":5.02,"y":1000},{"t":5.2,"y":800},{"t":5.4,"y":600},{"t":5.6,"y":1500},{"t":5.7,"y":700},{"t":5.9,"y":600},{"t":6.1,"y":700},{"t":6.3,"y":500},{"t":6.46,"y":600}]},
   "mark":{"type":"line","color":"#36366b","strokeWidth":1.1,"interpolate":"monotone","clip":true},
   "encoding":{"x":{"field":"t","type":"quantitative","title":"Time, min"},"y":{"field":"y","type":"quantitative","title":"Intensity"}}},
  {"data":{"values":[{"t":4.47,"y":25500,"t2":4.47,"y2":20500}]},
   "mark":{"type":"rule","color":"#9b1b1b","strokeWidth":1.3},
   "encoding":{"x":{"field":"t","type":"quantitative","title":"Time, min"},"y":{"field":"y","type":"quantitative","title":"Intensity"},"x2":{"field":"t2"},"y2":{"field":"y2"}}},
  {"data":{"values":[{"t":4.43,"y":28800,"label":"4.46"}]},
   "mark":{"type":"text","fontSize":14,"baseline":"middle","color":"#1a1a1a"},
   "encoding":{"x":{"field":"t","type":"quantitative","title":"Time, min"},"y":{"field":"y","type":"quantitative","title":"Intensity"},"text":{"field":"label"}}},
  {"data":{"values":[{"t":2.46,"y":44500,"label":"HMGR-OE7"}]},
   "mark":{"type":"text","fontSize":16,"fontStyle":"italic","align":"left","baseline":"top","dx":3,"dy":1,"color":"#111"},
   "encoding":{"x":{"field":"t","type":"quantitative","title":"Time, min"},"y":{"field":"y","type":"quantitative","title":"Intensity"},"text":{"field":"label"}}}
 ]},
{"width":162,"height":127,
 "data":{"values":[{"g":"NT","mean":0.030,"sd":0.003,"s":""},{"g":"HMGR-OE3","mean":0.055,"sd":0.006,"s":"**"},{"g":"HMGR-OE7","mean":0.058,"sd":0.005,"s":"**"}]},
 "layer":[
  {"mark":{"type":"bar","stroke":"#3a3a3a","strokeWidth":0.8},
   "encoding":{"x":{"field":"g","type":"nominal","sort":null,"title":null,"scale":{"domain":["NT","HMGR-OE3","HMGR-OE7"],"paddingInner":0.48,"paddingOuter":0.24,"align":0.42},"axis":{"labelAngle":-25,"ticks":false,"labelPadding":4,"labelOverlap":false}},
    "y":{"field":"mean","type":"quantitative","title":"Content (ng/g)","scale":{"domain":[0,0.07],"nice":false},"axis":{"values":[0,0.01,0.02,0.03,0.04,0.05,0.06,0.07],"tickCount":40,"format":".2f","labelFontSize":15,"titleFontSize":17,"titlePadding":3,"labelOverlap":false}},
    "color":{"field":"g","type":"nominal","scale":{"domain":["NT","HMGR-OE3","HMGR-OE7"],"range":["#7b1416","#168a45","#5dbb46"]},"legend":null}}},
  {"mark":{"type":"errorbar","ticks":true,"size":9,"thickness":1.5,"color":"#000"},
   "encoding":{"x":{"field":"g","type":"nominal","sort":null,"title":null},"y":{"field":"mean","type":"quantitative","title":"Content (ng/g)"},"yError":{"field":"sd"}}},
  {"transform":[{"calculate":"datum.mean+datum.sd","as":"top"}],
   "mark":{"type":"text","fontSize":33,"dy":7,"color":"#000","baseline":"alphabetic"},
   "encoding":{"x":{"field":"g","type":"nominal","sort":null,"title":null},"y":{"field":"top","type":"quantitative","title":"Content (ng/g)"},"text":{"field":"s"}}},
  {"data":{"values":[{"g":"NT","v":0.0573,"label":"TZR"}]},
   "mark":{"type":"text","font":"Liberation Serif","fontSize":15,"baseline":"middle","color":"#111"},
   "encoding":{"x":{"field":"g","type":"nominal","sort":null,"title":null},"y":{"field":"v","type":"quantitative","title":"Content (ng/g)"},"text":{"field":"label"}}}
 ]}
]},
{"bounds":"flush","center":true,"spacing":67,"hconcat":[
{"width":253,"height":100,
 "title":{"text":"D","anchor":"start","frame":"group","orient":"top","dx":-78,"offset":6,"baseline":"alphabetic","font":"Liberation Sans","fontSize":22,"fontWeight":"bold","color":"#111"},
 "layer":[
  {"data":{"values":[{"t":11.8,"y":60,"y0":30},{"t":11.9,"y":150,"y0":28},{"t":11.98,"y":280,"y0":26},{"t":12.05,"y":345,"y0":25},{"t":12.13,"y":362,"y0":23},{"t":12.2,"y":330,"y0":22},{"t":12.28,"y":240,"y0":20},{"t":12.37,"y":120,"y0":18},{"t":12.47,"y":50,"y0":17},{"t":12.57,"y":20,"y0":15}]},
   "mark":{"type":"area","color":"#b0b0bc","interpolate":"monotone"},
   "encoding":{"x":{"field":"t","type":"quantitative","title":"Time, min","scale":{"domain":[10.18,13.9],"nice":false,"zero":false},"axis":{"values":[10.5,11,11.5,12,12.5,13,13.5],"tickCount":40,"format":".1f","labelOverlap":false}},
    "y":{"field":"y","type":"quantitative","title":"Intensity","scale":{"domain":[-4,367],"nice":false,"zero":false},"axis":{"values":[0,100,200,300],"tickCount":40,"format":"d","labelOverlap":false}},"y2":{"field":"y0"}}},
  {"data":{"values":[{"t":10.18,"y":40},{"t":10.3,"y":45},{"t":10.45,"y":30},{"t":10.6,"y":25},{"t":10.75,"y":60},{"t":10.9,"y":92},{"t":11.0,"y":80},{"t":11.08,"y":40},{"t":11.2,"y":20},{"t":11.35,"y":30},{"t":11.5,"y":25},{"t":11.6,"y":30},{"t":11.72,"y":35},{"t":11.8,"y":60},{"t":11.9,"y":150},{"t":11.98,"y":280},{"t":12.05,"y":345},{"t":12.13,"y":362},{"t":12.2,"y":330},{"t":12.28,"y":240},{"t":12.37,"y":120},{"t":12.47,"y":50},{"t":12.57,"y":20},{"t":12.67,"y":10},{"t":12.85,"y":5},{"t":13.05,"y":10},{"t":13.25,"y":5},{"t":13.45,"y":12},{"t":13.65,"y":5},{"t":13.8,"y":15},{"t":13.9,"y":8}]},
   "mark":{"type":"line","color":"#36366b","strokeWidth":1.1,"interpolate":"monotone","clip":true},
   "encoding":{"x":{"field":"t","type":"quantitative","title":"Time, min"},"y":{"field":"y","type":"quantitative","title":"Intensity"}}},
  {"data":{"values":[{"t":12.13,"y":362,"t2":12.63,"y2":318}]},
   "mark":{"type":"rule","color":"#9b1b1b","strokeWidth":1.3},
   "encoding":{"x":{"field":"t","type":"quantitative","title":"Time, min"},"y":{"field":"y","type":"quantitative","title":"Intensity"},"x2":{"field":"t2"},"y2":{"field":"y2"}}},
  {"data":{"values":[{"t":12.68,"y":290,"label":"12.05"}]},
   "mark":{"type":"text","fontSize":14,"baseline":"middle","color":"#1a1a1a"},
   "encoding":{"x":{"field":"t","type":"quantitative","title":"Time, min"},"y":{"field":"y","type":"quantitative","title":"Intensity"},"text":{"field":"label"}}},
  {"data":{"values":[{"t":10.18,"y":367,"label":"NT"}]},
   "mark":{"type":"text","fontSize":16,"align":"left","baseline":"top","dx":3,"dy":1,"color":"#111"},
   "encoding":{"x":{"field":"t","type":"quantitative","title":"Time, min"},"y":{"field":"y","type":"quantitative","title":"Intensity"},"text":{"field":"label"}}}
 ]},
{"width":255,"height":100,
 "layer":[
  {"data":{"values":[{"t":12.1,"y":60,"y0":45},{"t":12.2,"y":250,"y0":44},{"t":12.28,"y":700,"y0":43},{"t":12.36,"y":1100,"y0":42},{"t":12.46,"y":1300,"y0":41},{"t":12.53,"y":1150,"y0":40},{"t":12.61,"y":850,"y0":39},{"t":12.7,"y":500,"y0":38},{"t":12.78,"y":220,"y0":37},{"t":12.88,"y":80,"y0":36},{"t":12.98,"y":40,"y0":35}]},
   "mark":{"type":"area","color":"#b0b0bc","interpolate":"monotone"},
   "encoding":{"x":{"field":"t","type":"quantitative","title":"Time, min","scale":{"domain":[10.18,13.92],"nice":false,"zero":false},"axis":{"values":[10.5,11,11.5,12,12.5,13,13.5],"tickCount":40,"format":".1f","labelOverlap":false}},
    "y":{"field":"y","type":"quantitative","title":"Intensity","scale":{"domain":[-13,1348],"nice":false,"zero":false},"axis":{"values":[0,200,400,600,800,1000,1200],"tickCount":40,"labelFontSize":13,"format":"d","labelOverlap":false}},"y2":{"field":"y0"}}},
  {"data":{"values":[{"t":10.18,"y":60},{"t":10.35,"y":50},{"t":10.5,"y":40},{"t":10.7,"y":35},{"t":10.85,"y":55},{"t":11.0,"y":45},{"t":11.2,"y":40},{"t":11.4,"y":35},{"t":11.6,"y":30},{"t":11.8,"y":40},{"t":11.95,"y":35},{"t":12.1,"y":60},{"t":12.2,"y":250},{"t":12.28,"y":700},{"t":12.36,"y":1100},{"t":12.46,"y":1300},{"t":12.53,"y":1150},{"t":12.61,"y":850},{"t":12.7,"y":500},{"t":12.78,"y":220},{"t":12.88,"y":80},{"t":12.98,"y":40},{"t":13.1,"y":30},{"t":13.3,"y":40},{"t":13.5,"y":30},{"t":13.7,"y":40},{"t":13.92,"y":30}]},
   "mark":{"type":"line","color":"#36366b","strokeWidth":1.1,"interpolate":"monotone","clip":true},
   "encoding":{"x":{"field":"t","type":"quantitative","title":"Time, min"},"y":{"field":"y","type":"quantitative","title":"Intensity"}}},
  {"data":{"values":[{"t":12.46,"y":1300,"t2":12.93,"y2":1175}]},
   "mark":{"type":"rule","color":"#9b1b1b","strokeWidth":1.3},
   "encoding":{"x":{"field":"t","type":"quantitative","title":"Time, min"},"y":{"field":"y","type":"quantitative","title":"Intensity"},"x2":{"field":"t2"},"y2":{"field":"y2"}}},
  {"data":{"values":[{"t":12.96,"y":1075,"label":"12.38"}]},
   "mark":{"type":"text","fontSize":14,"baseline":"middle","color":"#1a1a1a"},
   "encoding":{"x":{"field":"t","type":"quantitative","title":"Time, min"},"y":{"field":"y","type":"quantitative","title":"Intensity"},"text":{"field":"label"}}},
  {"data":{"values":[{"t":10.18,"y":1348,"label":"HMGR-OE3"}]},
   "mark":{"type":"text","fontSize":16,"fontStyle":"italic","align":"left","baseline":"top","dx":3,"dy":1,"color":"#111"},
   "encoding":{"x":{"field":"t","type":"quantitative","title":"Time, min"},"y":{"field":"y","type":"quantitative","title":"Intensity"},"text":{"field":"label"}}}
 ]},
{"width":254,"height":100,
 "layer":[
  {"data":{"values":[{"t":12.1,"y":30,"y0":30},{"t":12.2,"y":150,"y0":31},{"t":12.3,"y":700,"y0":32},{"t":12.38,"y":1300,"y0":33},{"t":12.45,"y":1540,"y0":34},{"t":12.52,"y":1350,"y0":35},{"t":12.6,"y":950,"y0":36},{"t":12.68,"y":650,"y0":37},{"t":12.75,"y":350,"y0":38},{"t":12.83,"y":100,"y0":39},{"t":12.93,"y":40,"y0":40}]},
   "mark":{"type":"area","color":"#b0b0bc","interpolate":"monotone"},
   "encoding":{"x":{"field":"t","type":"quantitative","title":"Time, min","scale":{"domain":[10.48,14.47],"nice":false,"zero":false},"axis":{"values":[11,11.5,12,12.5,13,13.5,14],"tickCount":40,"format":".1f","labelOverlap":false}},
    "y":{"field":"y","type":"quantitative","title":"Intensity","scale":{"domain":[-10,1629],"nice":false,"zero":false},"axis":{"values":[0,500,1000,1500],"tickCount":40,"format":"d","labelOverlap":false}},"y2":{"field":"y0"}}},
  {"data":{"values":[{"t":10.48,"y":60},{"t":10.65,"y":55},{"t":10.8,"y":50},{"t":11.0,"y":30},{"t":11.1,"y":80},{"t":11.2,"y":130},{"t":11.3,"y":100},{"t":11.4,"y":60},{"t":11.55,"y":40},{"t":11.75,"y":30},{"t":11.95,"y":20},{"t":12.1,"y":30},{"t":12.2,"y":150},{"t":12.3,"y":700},{"t":12.38,"y":1300},{"t":12.45,"y":1540},{"t":12.52,"y":1350},{"t":12.6,"y":950},{"t":12.68,"y":650},{"t":12.75,"y":350},{"t":12.83,"y":100},{"t":12.93,"y":40},{"t":13.1,"y":40},{"t":13.3,"y":40},{"t":13.5,"y":50},{"t":13.65,"y":80},{"t":13.8,"y":110},{"t":13.95,"y":90},{"t":14.1,"y":60},{"t":14.3,"y":40},{"t":14.47,"y":30}]},
   "mark":{"type":"line","color":"#36366b","strokeWidth":1.1,"interpolate":"monotone","clip":true},
   "encoding":{"x":{"field":"t","type":"quantitative","title":"Time, min"},"y":{"field":"y","type":"quantitative","title":"Intensity"}}},
  {"data":{"values":[{"t":12.45,"y":1540,"t2":12.97,"y2":1400}]},
   "mark":{"type":"rule","color":"#9b1b1b","strokeWidth":1.3},
   "encoding":{"x":{"field":"t","type":"quantitative","title":"Time, min"},"y":{"field":"y","type":"quantitative","title":"Intensity"},"x2":{"field":"t2"},"y2":{"field":"y2"}}},
  {"data":{"values":[{"t":12.94,"y":1320,"label":"12.40"}]},
   "mark":{"type":"text","fontSize":14,"baseline":"middle","color":"#1a1a1a"},
   "encoding":{"x":{"field":"t","type":"quantitative","title":"Time, min"},"y":{"field":"y","type":"quantitative","title":"Intensity"},"text":{"field":"label"}}},
  {"data":{"values":[{"t":10.48,"y":1629,"label":"HMGR-OE7"}]},
   "mark":{"type":"text","fontSize":16,"fontStyle":"italic","align":"left","baseline":"top","dx":3,"dy":1,"color":"#111"},
   "encoding":{"x":{"field":"t","type":"quantitative","title":"Time, min"},"y":{"field":"y","type":"quantitative","title":"Intensity"},"text":{"field":"label"}}}
 ]},
{"width":162,"height":127,
 "data":{"values":[{"g":"NT","mean":1.5,"sd":0.1,"s":""},{"g":"HMGR-OE3","mean":4.88,"sd":0.3,"s":"***"},{"g":"HMGR-OE7","mean":4.85,"sd":0.22,"s":"***"}]},
 "layer":[
  {"mark":{"type":"bar","stroke":"#3a3a3a","strokeWidth":0.8},
   "encoding":{"x":{"field":"g","type":"nominal","sort":null,"title":null,"scale":{"domain":["NT","HMGR-OE3","HMGR-OE7"],"paddingInner":0.48,"paddingOuter":0.24,"align":0.42},"axis":{"labelAngle":-25,"ticks":false,"labelPadding":4,"labelOverlap":false}},
    "y":{"field":"mean","type":"quantitative","title":"Content (ng/g)","scale":{"domain":[0,1.7,2.6,6],"range":[127,64,62,0],"nice":false,"zero":false},"axis":{"values":[0,1,3,4,5,6],"tickCount":40,"format":"d","labelFontSize":15,"titleFontSize":17,"titlePadding":3,"labelOverlap":false}},
    "color":{"field":"g","type":"nominal","scale":{"domain":["NT","HMGR-OE3","HMGR-OE7"],"range":["#7b1416","#168a45","#5dbb46"]},"legend":null}}},
  {"mark":{"type":"rule","color":"white","strokeWidth":2.5},
   "encoding":{"y":{"datum":2.15,"type":"quantitative"}}},
  {"mark":{"type":"text","text":"//","fontSize":12,"fontWeight":"bold","color":"#222","baseline":"middle"},
   "encoding":{"x":{"value":0},"y":{"datum":2.15,"type":"quantitative"}}},
  {"mark":{"type":"text","text":"//","fontSize":12,"fontWeight":"bold","color":"#222","baseline":"middle"},
   "encoding":{"x":{"value":162},"y":{"datum":2.15,"type":"quantitative"}}},
  {"mark":{"type":"errorbar","ticks":true,"size":9,"thickness":1.5,"color":"#000"},
   "encoding":{"x":{"field":"g","type":"nominal","sort":null,"title":null},"y":{"field":"mean","type":"quantitative","title":"Content (ng/g)"},"yError":{"field":"sd"}}},
  {"transform":[{"calculate":"datum.mean+datum.sd","as":"top"}],
   "mark":{"type":"text","fontSize":33,"dy":7,"color":"#000","baseline":"alphabetic"},
   "encoding":{"x":{"field":"g","type":"nominal","sort":null,"title":null},"y":{"field":"top","type":"quantitative","title":"Content (ng/g)"},"text":{"field":"s"}}},
  {"data":{"values":[{"g":"NT","v":4.8,"label":"DCS"}]},
   "mark":{"type":"text","font":"Liberation Serif","fontSize":15,"baseline":"middle","color":"#111"},
   "encoding":{"x":{"field":"g","type":"nominal","sort":null,"title":null},"y":{"field":"v","type":"quantitative","title":"Content (ng/g)"},"text":{"field":"label"}}}
 ]}
]},
{"bounds":"flush","center":true,"spacing":67,"hconcat":[
{"width":253,"height":100,
 "title":{"text":"E","anchor":"start","frame":"group","orient":"top","dx":-78,"offset":4,"baseline":"alphabetic","font":"Liberation Sans","fontSize":22,"fontWeight":"bold","color":"#111"},
 "layer":[
  {"data":{"values":[{"t":6.42,"y":832,"y0":832},{"t":6.45,"y":950,"y0":822},{"t":6.49,"y":1260,"y0":808},{"t":6.53,"y":1050,"y0":796},{"t":6.58,"y":800,"y0":780}]},
   "mark":{"type":"area","color":"#b0b0bc","interpolate":"monotone"},
   "encoding":{"x":{"field":"t","type":"quantitative","title":"Time, min","scale":{"domain":[4.73,8.66],"nice":false,"zero":false},"axis":{"values":[5,5.5,6,6.5,7,7.5,8,8.5],"tickCount":40,"format":".1f","labelOverlap":false}},
    "y":{"field":"y","type":"quantitative","title":"Intensity","scale":{"domain":[-18,1768],"nice":false,"zero":false},"axis":{"values":[0,500,1000,1500],"tickCount":40,"format":"d","labelOverlap":false}},"y2":{"field":"y0"}}},
  {"data":{"values":[{"t":6.42,"y0":832},{"t":6.58,"y0":780}]},
   "mark":{"type":"line","color":"#c0392b","strokeWidth":1},
   "encoding":{"x":{"field":"t","type":"quantitative","title":"Time, min"},"y":{"field":"y0","type":"quantitative","title":"Intensity"}}},
  {"data":{"values":[{"t":4.73,"y":971},{"t":4.82,"y":935},{"t":4.92,"y":1105},{"t":5.03,"y":1609},{"t":5.13,"y":1378},{"t":5.26,"y":1712},{"t":5.34,"y":1105},{"t":5.39,"y":911},{"t":5.5,"y":923},{"t":5.55,"y":832},{"t":5.61,"y":953},{"t":5.68,"y":911},{"t":5.76,"y":832},{"t":5.84,"y":801},{"t":5.92,"y":801},{"t":6.03,"y":741},{"t":6.11,"y":814},{"t":6.16,"y":862},{"t":6.21,"y":789},{"t":6.33,"y":1044},{"t":6.42,"y":832},{"t":6.45,"y":950},{"t":6.49,"y":1260},{"t":6.53,"y":1050},{"t":6.58,"y":800},{"t":6.63,"y":790},{"t":6.7,"y":935},{"t":6.76,"y":801},{"t":6.84,"y":953},{"t":6.91,"y":801},{"t":7.03,"y":893},{"t":7.11,"y":801},{"t":7.18,"y":741},{"t":7.26,"y":650},{"t":7.34,"y":692},{"t":7.42,"y":650},{"t":7.5,"y":801},{"t":7.58,"y":607},{"t":7.66,"y":692},{"t":7.76,"y":650},{"t":7.87,"y":710},{"t":7.97,"y":668},{"t":8.05,"y":668},{"t":8.13,"y":619},{"t":8.24,"y":668},{"t":8.34,"y":619},{"t":8.45,"y":680},{"t":8.53,"y":668},{"t":8.62,"y":923},{"t":8.66,"y":850}]},
   "mark":{"type":"line","color":"#36366b","strokeWidth":1.1,"interpolate":"monotone","clip":true},
   "encoding":{"x":{"field":"t","type":"quantitative","title":"Time, min"},"y":{"field":"y","type":"quantitative","title":"Intensity"}}},
  {"data":{"values":[{"t":6.51,"y":1260,"t2":6.83,"y2":1480}]},
   "mark":{"type":"rule","color":"#9b1b1b","strokeWidth":1.3},
   "encoding":{"x":{"field":"t","type":"quantitative","title":"Time, min"},"y":{"field":"y","type":"quantitative","title":"Intensity"},"x2":{"field":"t2"},"y2":{"field":"y2"}}},
  {"data":{"values":[{"t":6.98,"y":1560,"label":"6.45"}]},
   "mark":{"type":"text","fontSize":14,"baseline":"middle","color":"#1a1a1a"},
   "encoding":{"x":{"field":"t","type":"quantitative","title":"Time, min"},"y":{"field":"y","type":"quantitative","title":"Intensity"},"text":{"field":"label"}}},
  {"data":{"values":[{"t":4.73,"y":-18,"label":"NT"}]},
   "mark":{"type":"text","fontSize":16,"align":"left","baseline":"alphabetic","dx":2,"dy":-1,"color":"#111"},
   "encoding":{"x":{"field":"t","type":"quantitative","title":"Time, min"},"y":{"field":"y","type":"quantitative","title":"Intensity"},"text":{"field":"label"}}}
 ]},
{"width":255,"height":100,
 "layer":[
  {"data":{"values":[{"t":6.1,"y":640,"y0":640},{"t":6.195,"y":853,"y0":605},{"t":6.26,"y":621,"y0":582},{"t":6.32,"y":559,"y0":559}]},
   "mark":{"type":"area","color":"#b0b0bc","interpolate":"monotone"},
   "encoding":{"x":{"field":"t","type":"quantitative","title":"Time, min","scale":{"domain":[4.58,8.72],"nice":false,"zero":false},"axis":{"values":[5,5.5,6,6.5,7,7.5,8,8.5],"tickCount":40,"format":".1f","labelOverlap":false}},
    "y":{"field":"y","type":"quantitative","title":"Intensity","scale":{"domain":[-30,1580],"nice":false,"zero":false},"axis":{"values":[0,500,1000,1500],"tickCount":40,"format":"d","labelOverlap":false}},"y2":{"field":"y0"}}},
  {"data":{"values":[{"t":6.1,"y0":640},{"t":6.32,"y0":559}]},
   "mark":{"type":"line","color":"#c0392b","strokeWidth":1},
   "encoding":{"x":{"field":"t","type":"quantitative","title":"Time, min"},"y":{"field":"y0","type":"quantitative","title":"Intensity"}}},
  {"data":{"values":[{"t":4.57,"y":1086},{"t":4.645,"y":1500},{"t":4.726,"y":1319},{"t":4.77,"y":1190},{"t":4.83,"y":1474},{"t":4.88,"y":1448},{"t":4.945,"y":1034},{"t":4.99,"y":802},{"t":5.07,"y":750},{"t":5.13,"y":647},{"t":5.18,"y":750},{"t":5.23,"y":647},{"t":5.29,"y":672},{"t":5.35,"y":595},{"t":5.41,"y":698},{"t":5.48,"y":621},{"t":5.54,"y":672},{"t":5.6,"y":595},{"t":5.66,"y":647},{"t":5.73,"y":543},{"t":5.82,"y":647},{"t":5.88,"y":517},{"t":5.98,"y":672},{"t":6.04,"y":647},{"t":6.1,"y":640},{"t":6.195,"y":853},{"t":6.26,"y":621},{"t":6.32,"y":559},{"t":6.41,"y":662},{"t":6.48,"y":569},{"t":6.57,"y":491},{"t":6.63,"y":559},{"t":6.73,"y":517},{"t":6.82,"y":491},{"t":6.91,"y":543},{"t":6.98,"y":440},{"t":7.07,"y":517},{"t":7.16,"y":491},{"t":7.26,"y":517},{"t":7.35,"y":466},{"t":7.445,"y":517},{"t":7.54,"y":476},{"t":7.63,"y":543},{"t":7.73,"y":440},{"t":7.82,"y":533},{"t":7.91,"y":517},{"t":8.01,"y":559},{"t":8.1,"y":543},{"t":8.195,"y":595},{"t":8.29,"y":559},{"t":8.38,"y":828},{"t":8.48,"y":698},{"t":8.54,"y":543},{"t":8.62,"y":683},{"t":8.72,"y":559}]},
   "mark":{"type":"line","color":"#36366b","strokeWidth":1.1,"interpolate":"monotone","clip":true},
   "encoding":{"x":{"field":"t","type":"quantitative","title":"Time, min"},"y":{"field":"y","type":"quantitative","title":"Intensity"}}},
  {"data":{"values":[{"t":6.2,"y":1160,"t2":6.2,"y2":870}]},
   "mark":{"type":"rule","color":"#9b1b1b","strokeWidth":1.3},
   "encoding":{"x":{"field":"t","type":"quantitative","title":"Time, min"},"y":{"field":"y","type":"quantitative","title":"Intensity"},"x2":{"field":"t2"},"y2":{"field":"y2"}}},
  {"data":{"values":[{"t":6.22,"y":1260,"label":"6.21"}]},
   "mark":{"type":"text","fontSize":14,"baseline":"middle","color":"#1a1a1a"},
   "encoding":{"x":{"field":"t","type":"quantitative","title":"Time, min"},"y":{"field":"y","type":"quantitative","title":"Intensity"},"text":{"field":"label"}}},
  {"data":{"values":[{"t":4.58,"y":-30,"label":"HMGR-OE3"}]},
   "mark":{"type":"text","fontSize":16,"fontStyle":"italic","align":"left","baseline":"alphabetic","dx":2,"dy":-1,"color":"#111"},
   "encoding":{"x":{"field":"t","type":"quantitative","title":"Time, min"},"y":{"field":"y","type":"quantitative","title":"Intensity"},"text":{"field":"label"}}}
 ]},
{"width":254,"height":100,
 "layer":[
  {"data":{"values":[{"t":6.29,"y":700,"y0":700},{"t":6.36,"y":800,"y0":708},{"t":6.43,"y":936,"y0":716},{"t":6.5,"y":800,"y0":726},{"t":6.59,"y":760,"y0":740}]},
   "mark":{"type":"area","color":"#b0b0bc","interpolate":"monotone"},
   "encoding":{"x":{"field":"t","type":"quantitative","title":"Time, min","scale":{"domain":[4.55,8.64],"nice":false,"zero":false},"axis":{"values":[5,5.5,6,6.5,7,7.5,8,8.5],"tickCount":40,"format":".1f","labelOverlap":false}},
    "y":{"field":"y","type":"quantitative","title":"Intensity","scale":{"domain":[-15,1435],"nice":false,"zero":false},"axis":{"values":[0,200,400,600,800,1000,1200],"tickCount":40,"labelFontSize":13,"format":"d","labelOverlap":false}},"y2":{"field":"y0"}}},
  {"data":{"values":[{"t":6.29,"y0":700},{"t":6.59,"y0":740}]},
   "mark":{"type":"line","color":"#c0392b","strokeWidth":1},
   "encoding":{"x":{"field":"t","type":"quantitative","title":"Time, min"},"y":{"field":"y0","type":"quantitative","title":"Intensity"}}},
  {"data":{"values":[{"t":4.55,"y":1000},{"t":4.66,"y":1032},{"t":4.74,"y":1224},{"t":4.8,"y":1128},{"t":4.87,"y":1296},{"t":4.93,"y":1080},{"t":5.02,"y":840},{"t":5.08,"y":744},{"t":5.14,"y":864},{"t":5.23,"y":768},{"t":5.32,"y":816},{"t":5.38,"y":720},{"t":5.43,"y":792},{"t":5.52,"y":672},{"t":5.58,"y":768},{"t":5.65,"y":768},{"t":5.73,"y":864},{"t":5.8,"y":1176},{"t":5.85,"y":1272},{"t":5.91,"y":1008},{"t":5.97,"y":1272},{"t":6.0,"y":1359},{"t":6.04,"y":1128},{"t":6.09,"y":816},{"t":6.13,"y":720},{"t":6.2,"y":744},{"t":6.29,"y":700},{"t":6.36,"y":800},{"t":6.43,"y":936},{"t":6.5,"y":800},{"t":6.59,"y":760},{"t":6.68,"y":696},{"t":6.77,"y":744},{"t":6.86,"y":648},{"t":6.95,"y":696},{"t":7.03,"y":624},{"t":7.11,"y":672},{"t":7.19,"y":576},{"t":7.3,"y":624},{"t":7.39,"y":590},{"t":7.48,"y":638},{"t":7.57,"y":590},{"t":7.66,"y":600},{"t":7.77,"y":576},{"t":7.86,"y":552},{"t":7.92,"y":504},{"t":8.01,"y":624},{"t":8.07,"y":696},{"t":8.16,"y":744},{"t":8.25,"y":888},{"t":8.31,"y":864},{"t":8.4,"y":672},{"t":8.48,"y":792},{"t":8.57,"y":720},{"t":8.64,"y":760}]},
   "mark":{"type":"line","color":"#36366b","strokeWidth":1.1,"interpolate":"monotone","clip":true},
   "encoding":{"x":{"field":"t","type":"quantitative","title":"Time, min"},"y":{"field":"y","type":"quantitative","title":"Intensity"}}},
  {"data":{"values":[{"t":6.44,"y":1190,"t2":6.44,"y2":940}]},
   "mark":{"type":"rule","color":"#9b1b1b","strokeWidth":1.3},
   "encoding":{"x":{"field":"t","type":"quantitative","title":"Time, min"},"y":{"field":"y","type":"quantitative","title":"Intensity"},"x2":{"field":"t2"},"y2":{"field":"y2"}}},
  {"data":{"values":[{"t":6.47,"y":1300,"label":"6.43"}]},
   "mark":{"type":"text","fontSize":14,"baseline":"middle","color":"#1a1a1a"},
   "encoding":{"x":{"field":"t","type":"quantitative","title":"Time, min"},"y":{"field":"y","type":"quantitative","title":"Intensity"},"text":{"field":"label"}}},
  {"data":{"values":[{"t":4.55,"y":-15,"label":"HMGR-OE7"}]},
   "mark":{"type":"text","fontSize":16,"fontStyle":"italic","align":"left","baseline":"alphabetic","dx":2,"dy":-1,"color":"#111"},
   "encoding":{"x":{"field":"t","type":"quantitative","title":"Time, min"},"y":{"field":"y","type":"quantitative","title":"Intensity"},"text":{"field":"label"}}}
 ]},
{"width":162,"height":130,
 "data":{"values":[{"g":"NT","mean":0.202,"sd":0.033,"s":""},{"g":"HMGR-OE3","mean":0.1,"sd":0.018,"s":"**"},{"g":"HMGR-OE7","mean":0.11,"sd":0.018,"s":"**"}]},
 "layer":[
  {"mark":{"type":"bar","stroke":"#3a3a3a","strokeWidth":0.8},
   "encoding":{"x":{"field":"g","type":"nominal","sort":null,"title":null,"scale":{"domain":["NT","HMGR-OE3","HMGR-OE7"],"paddingInner":0.48,"paddingOuter":0.24,"align":0.42},"axis":{"labelAngle":-25,"ticks":false,"labelPadding":4,"labelOverlap":false}},
    "y":{"field":"mean","type":"quantitative","title":"Content (ng/g)","scale":{"domain":[0,0.25],"nice":false},"axis":{"values":[0,0.05,0.1,0.15,0.2,0.25],"tickCount":40,"format":".2f","labelFontSize":15,"titleFontSize":17,"titlePadding":3,"labelOverlap":false}},
    "color":{"field":"g","type":"nominal","scale":{"domain":["NT","HMGR-OE3","HMGR-OE7"],"range":["#7b1416","#168a45","#5dbb46"]},"legend":null}}},
  {"mark":{"type":"errorbar","ticks":true,"size":9,"thickness":1.5,"color":"#000"},
   "encoding":{"x":{"field":"g","type":"nominal","sort":null,"title":null},"y":{"field":"mean","type":"quantitative","title":"Content (ng/g)"},"yError":{"field":"sd"}}},
  {"transform":[{"calculate":"datum.mean+datum.sd","as":"top"}],
   "mark":{"type":"text","fontSize":33,"dy":7,"color":"#000","baseline":"alphabetic"},
   "encoding":{"x":{"field":"g","type":"nominal","sort":null,"title":null},"y":{"field":"top","type":"quantitative","title":"Content (ng/g)"},"text":{"field":"s"}}},
  {"data":{"values":[{"g":"HMGR-OE7","v":0.206,"label":"CS"}]},
   "mark":{"type":"text","font":"Liberation Serif","fontSize":15,"baseline":"middle","color":"#111"},
   "encoding":{"x":{"field":"g","type":"nominal","sort":null,"title":null},"y":{"field":"v","type":"quantitative","title":"Content (ng/g)"},"text":{"field":"label"}}}
 ]}
]}
]
}
